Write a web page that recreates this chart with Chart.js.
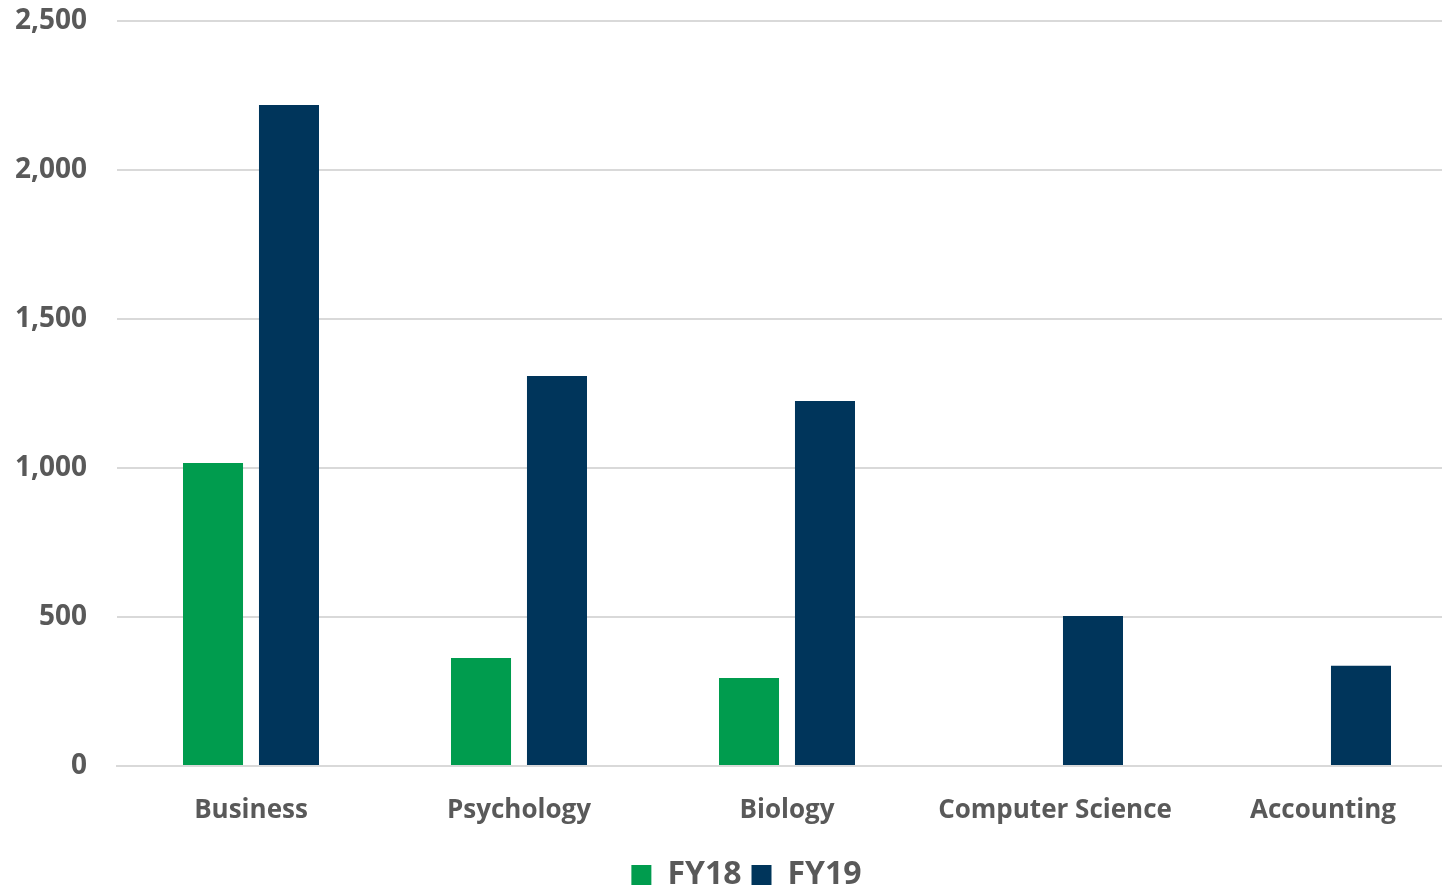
<!DOCTYPE html>
<html>
<head>
<meta charset="utf-8">
<script src="https://cdn.jsdelivr.net/npm/chart.js@4/dist/chart.umd.min.js"></script>
<style>
  html, body { margin: 0; padding: 0; background: #fff; }
  #frame { width: 1442px; height: 886px; overflow: hidden; }
  /* plot area runs a little past the right edge of the frame */
  #wrap { width: 1457px; height: 886px; position: relative; }
</style>
</head>
<body>
<div id="frame"><div id="wrap"><canvas id="majors"></canvas></div></div>
<script>
// enrollment by major, two fiscal years
const majors = ['Business', 'Psychology', 'Biology', 'Computer Science', 'Accounting'];
const fy18 = [1017, 362, 295, null, null];
const fy19 = [2218, 1309, 1225, 503, 336];

const GREEN = '#009c4e';
const NAVY = '#00355b';
const TEXT = '#595959';
const GRID = '#d9d9d9';

Chart.defaults.font.family = '"Open Sans", Lato, sans-serif';
Chart.defaults.font.weight = 'bold';
Chart.defaults.color = TEXT;

// nudge the legend row a bit to the right of the canvas centre
const legendNudge = {
  id: 'legendNudge',
  afterLayout(chart) {
    const lg = chart.legend;
    if (lg) { lg.left += 18; lg.right += 18; }
  }
};

const ctx = document.getElementById('majors').getContext('2d');
new Chart(ctx, {
  type: 'bar',
  data: {
    labels: majors,
    datasets: [
      { label: 'FY18', data: fy18, backgroundColor: GREEN },
      { label: 'FY19', data: fy19, backgroundColor: NAVY }
    ]
  },
  options: {
    responsive: true,
    maintainAspectRatio: false,
    animation: false,
    categoryPercentage: 0.567,
    barPercentage: 0.79,
    layout: { padding: { top: 21, right: 0, bottom: -15, left: 0 } },
    plugins: {
      legend: {
        position: 'bottom',
        labels: {
          boxWidth: 20, boxHeight: 20, padding: 10,
          font: { size: 32, weight: 'bold' }, color: TEXT
        }
      },
      tooltip: { enabled: false }
    },
    scales: {
      x: {
        grid: { display: false },
        border: { color: GRID, width: 2 },
        ticks: { font: { size: 26, weight: 'bold' }, padding: 21 },
        afterFit: (s) => { s.height = 83; s.paddingLeft = 0; s.paddingRight = 0; }
      },
      y: {
        min: 0, max: 2500,
        ticks: { stepSize: 500, font: { size: 28, weight: 'bold' }, padding: 30 },
        grid: { color: GRID, lineWidth: 2, drawTicks: false },
        border: { display: false },
        afterFit: (s) => { s.width = 117; s.paddingTop = 0; s.paddingBottom = 0; }
      }
    }
  },
  plugins: [legendNudge]
});
</script>
</body>
</html>
